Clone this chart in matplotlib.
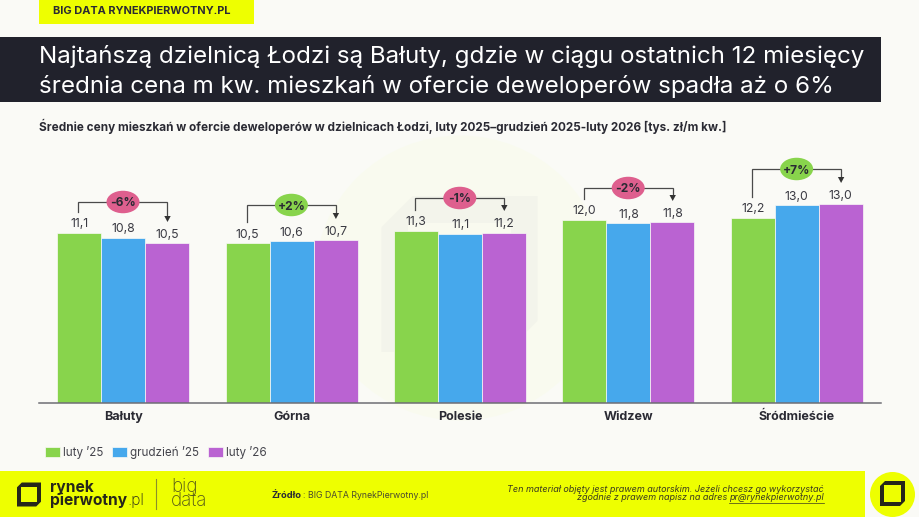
import matplotlib
matplotlib.use('Agg')
import matplotlib.pyplot as plt
from matplotlib.patches import Rectangle, Ellipse, Polygon

districts = ['Bałuty', 'Górna', 'Polesie', 'Widzew', 'Śródmieście']
series_names = ['luty ’25', 'grudzień ’25', 'luty ’26']
luty_25 = [11.13, 10.47, 11.28, 12.02, 12.16]
grudzien_25 = [10.84, 10.6, 11.08, 11.78, 12.96]
luty_26 = [10.47, 10.67, 11.17, 11.84, 13.03]
changes = ['-6%', '+2%', '-1%', '-2%', '+7%']

BG = '#FAFAF6'
YELLOW = '#EEFF00'
DARK = '#21222C'
TEXT = '#2A2A33'
COLORS = ['#88D44C', '#46A8EC', '#BA63D2']
PINK = '#DE5F8E'
GREEN = '#88D44C'
FONT = 'Inter'

# pixel rows of the brackets: top line, bottom of left leg, arrow tip
bracket_top = [202, 205, 198, 188, 169]
bracket_left = [212, 222, 210, 199, 197]
bracket_tip = [222, 219, 211, 201, 183]

plt.rcParams['font.family'] = [FONT, 'DejaVu Sans']

fig = plt.figure(figsize=(9.2, 5.17), dpi=100, facecolor=BG)

# overlay in pixel coordinates for header, footer and brackets
bg = fig.add_axes([0, 0, 1, 1], zorder=0)
bg.set_xlim(0, 920)
bg.set_ylim(517, 0)
bg.axis('off')

ax = fig.add_axes([39 / 920, 114 / 517, 842 / 920, 273 / 517], zorder=1)
ax.patch.set_alpha(0)
top = fig.add_axes([0, 0, 1, 1], zorder=2)
top.set_xlim(0, 920)
top.set_ylim(517, 0)
top.axis('off')


def logo(axis, cx, cy, size, color, hole, thick=0.17):
    # square outline with two cut corners
    s = size / 2.0
    t = size * thick
    outer = [(cx - s, cy - s * 0.6), (cx - s * 0.6, cy - s), (cx + s, cy - s),
             (cx + s, cy + s * 0.6), (cx + s * 0.6, cy + s), (cx - s, cy + s)]
    inner = [(cx - s + t, cy - s + t), (cx + s - t, cy - s + t),
             (cx + s - t, cy + s - t), (cx - s + t, cy + s - t)]
    axis.add_patch(Polygon(outer, closed=True, fc=color, ec='none'))
    axis.add_patch(Polygon(inner, closed=True, fc=hole, ec='none'))


# faint watermark behind the bars
bg.add_patch(Ellipse((460, 278), 290, 285, fc='#F9FAEF', ec='none'))
logo(bg, 459.5, 274, 156, '#F3F4EB', '#F9FAEF')

# header
bg.add_patch(Rectangle((39, 0), 215, 24, fc=YELLOW, ec='none'))
bg.text(53, 11.5, 'BIG DATA RYNEKPIERWOTNY.PL', fontsize=7.9, fontweight='bold',
        color=TEXT, va='center')
bg.add_patch(Rectangle((0, 37), 881, 65, fc=DARK, ec='none'))
bg.text(39, 63, 'Najtańszą dzielnicą Łodzi są Bałuty, gdzie w ciągu ostatnich 12 miesięcy',
        fontsize=17.4, color='white', va='baseline')
bg.text(39, 93, 'średnia cena m kw. mieszkań w ofercie deweloperów spadła aż o 6%',
        fontsize=17.4, color='white', va='baseline')
bg.text(39, 126, 'Średnie ceny mieszkań w ofercie deweloperów w dzielnicach Łodzi, '
        'luty 2025–grudzień 2025-luty 2026 [tys. zł/m kw.]',
        fontsize=8.47, fontweight='bold', color=TEXT, va='center')

# bars
width = 44 / 168.4
for i, values in enumerate([luty_25, grudzien_25, luty_26]):
    positions = [g + (i - 1) * width for g in range(len(districts))]
    ax.bar(positions, values, width=width, color=COLORS[i], ec=BG, lw=0.5,
           label=series_names[i])
    for p, v in zip(positions, values):
        ax.annotate(('%.1f' % v).replace('.', ','), (p, v), xytext=(0, 2),
                    textcoords='offset points', ha='center', va='bottom',
                    fontsize=8.8, color='#3A3A42')

ax.set_xlim(-0.5, 4.5)
ax.set_ylim(0, 273 / 15.25)
ax.set_yticks([])
ax.set_xticks(range(len(districts)))
ax.set_xticklabels(districts, fontsize=9, fontweight='bold', color=TEXT)
ax.tick_params(axis='x', length=0, pad=6)
for side in ['top', 'left', 'right']:
    ax.spines[side].set_visible(False)
ax.spines['bottom'].set_color('#6E6E74')
ax.spines['bottom'].set_linewidth(1.1)

leg = ax.legend(loc='upper left', bbox_to_anchor=(0.0, -0.135), ncol=3, frameon=False,
                fontsize=8.4, handlelength=1.29, handleheight=0.94, handletextpad=0.26,
                columnspacing=0.77, borderaxespad=0, borderpad=0.5)
for t in leg.get_texts():
    t.set_color('#44444C')

# brackets with the change pills
for g, label in enumerate(changes):
    cx = 123 + g * 168.4
    x0, x1 = cx - 44.5, cx + 44.5
    y = bracket_top[g]
    top.plot([x0, x0, x1, x1], [bracket_left[g], y, y, bracket_tip[g] - 5],
             color='#4A4A4A', lw=0.9, solid_joinstyle='miter', zorder=2)
    top.add_patch(Polygon([(x1 - 3.2, bracket_tip[g] - 6), (x1 + 3.2, bracket_tip[g] - 6),
                           (x1, bracket_tip[g])], closed=True, fc='#333333', ec='none', zorder=2))
    pill = GREEN if label.startswith('+') else PINK
    top.add_patch(Ellipse((cx, y), 33, 22.5, fc=pill, ec='none', zorder=3))
    top.text(cx, y, label, ha='center', va='center_baseline', fontsize=8.6,
             fontweight='bold', color=TEXT, zorder=4)

# footer
bg.add_patch(Rectangle((0, 471), 865, 46, fc=YELLOW, ec='none'))
bg.add_patch(Ellipse((892.5, 494.5), 45, 45, fc=YELLOW, ec='none'))
logo(bg, 29, 494.5, 24, '#26261A', YELLOW)
logo(bg, 892.5, 493.5, 25, '#26261A', YELLOW)
bg.text(50, 494, 'rynek\npierwotny', fontsize=11.2, fontweight='bold', color='#26261A',
        va='center', linespacing=0.85)
bg.text(127, 501, '.pl', fontsize=11.2, fontweight='light', color='#26261A', va='center')
bg.plot([156, 156], [479, 509], color='#8A8F2A', lw=0.8)
bg.text(171, 494, 'big\ndata', fontsize=13.5, fontweight='light', color='#55581A',
        va='center', linespacing=0.72)
bg.text(272, 495, 'Źródło', fontsize=6.7, fontweight='bold', color=TEXT, va='center')
bg.text(303.5, 495, ': BIG DATA RynekPierwotny.pl', fontsize=6.3, color='#4A4A30', va='center')
bg.text(824, 489, 'Ten materiał objęty jest prawem autorskim. Jeżeli chcesz go wykorzystać',
        fontsize=6.5, style='italic', color='#3A3A20', ha='right', va='center')
bg.text(727, 498, 'zgodnie z prawem napisz na adres', fontsize=6.5, style='italic',
        color='#3A3A20', ha='right', va='center')
bg.text(824, 498, 'pr@rynekpierwotny.pl', fontsize=6.5, style='italic', color='#3A3A20',
        ha='right', va='center')
bg.plot([729, 824], [503, 503], color='#3A3A20', lw=0.5)

fig.savefig('out.png', dpi=100, facecolor=BG)
